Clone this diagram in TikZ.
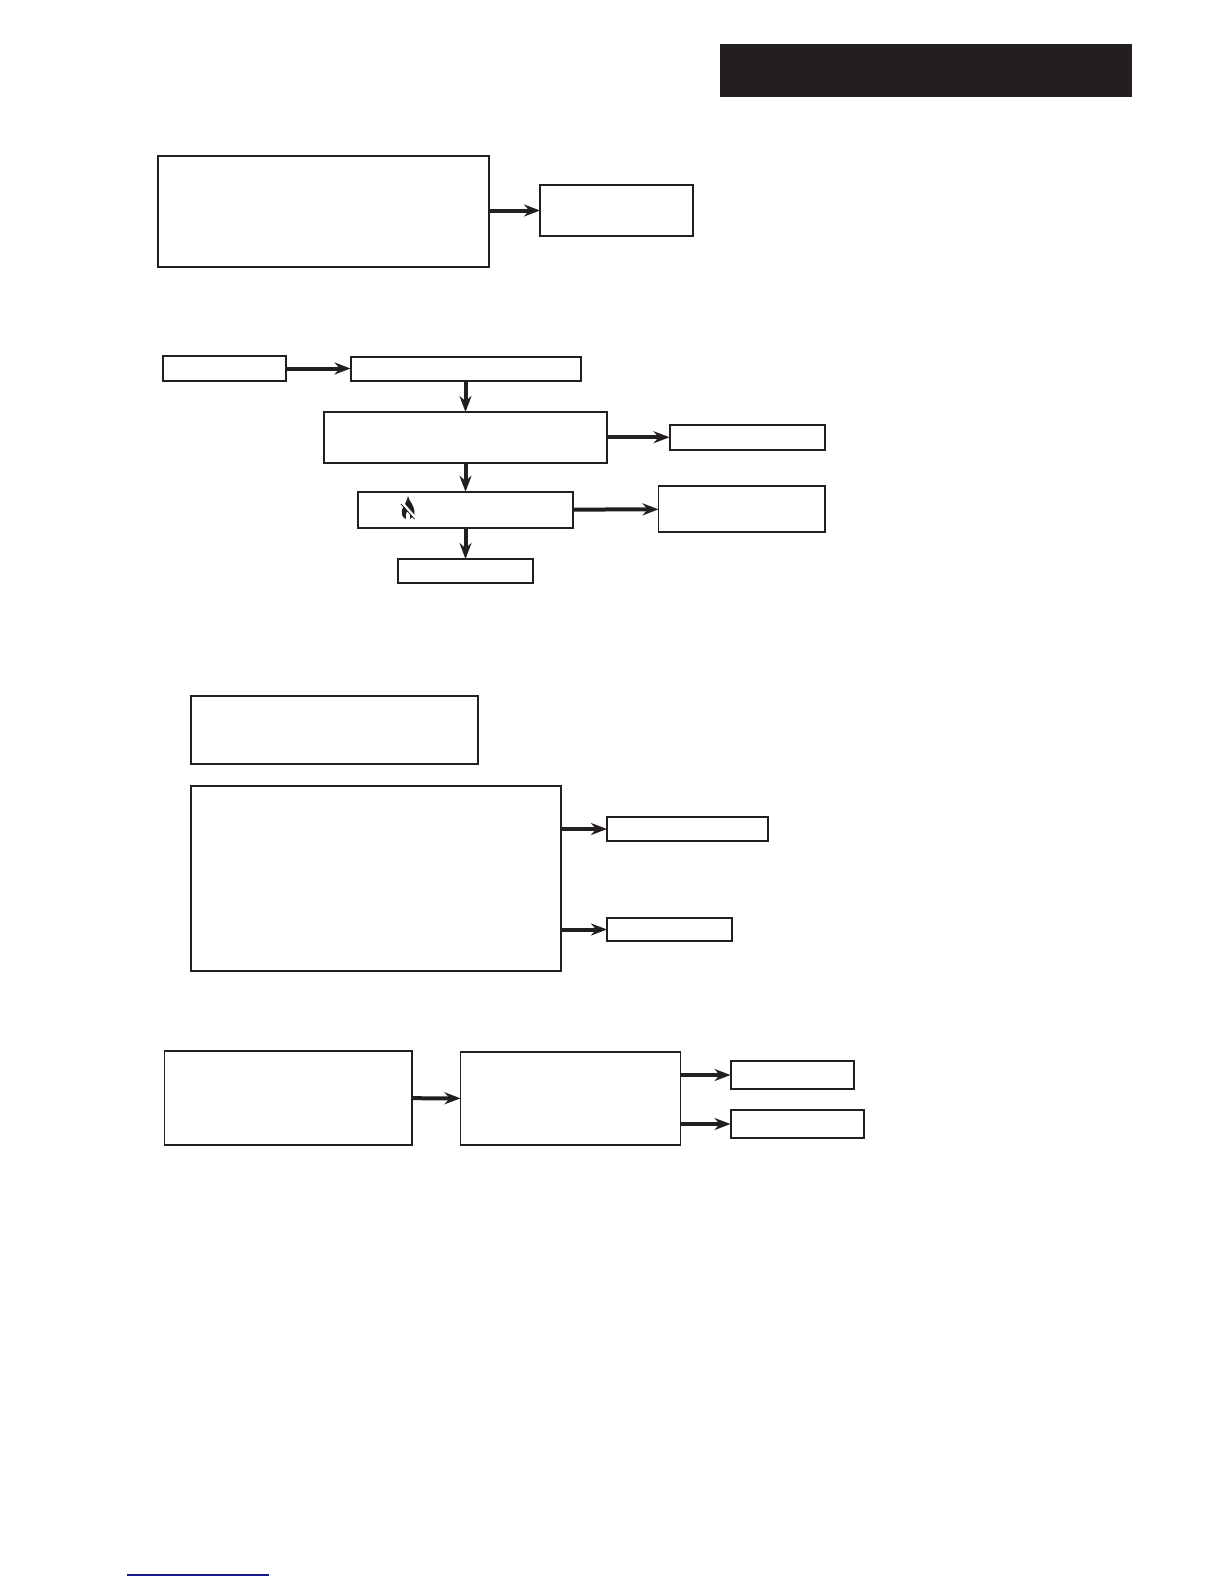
\documentclass[tikz,border=0pt]{standalone}
\usetikzlibrary{arrows.meta}
\definecolor{inkk}{HTML}{231F20}
\definecolor{linkblue}{HTML}{1A1A8C}
\tikzset{
	box/.style={draw=inkk,line width=1pt,inner sep=0pt,outer sep=0pt},
	arr/.style={draw=inkk,line width=2pt,-{Stealth[length=8pt,width=6pt]}},
}
\begin{document}
\begin{tikzpicture}[x=0.5pt,y=-0.5pt]
	\useasboundingbox (0,0) rectangle (1224,1584);
	\fill[inkk] (720,44) rectangle (1132,97);
	% first group
	\node[box,minimum width=165.75pt,minimum height=55.5pt] (heat) at (323.25,211) {};
	\node[box,line width=0.8pt,minimum width=76.5pt,minimum height=25.5pt] (heatout) at (616.5,210.5) {};
	\draw[arr] (heat.east |- heatout.west)--(heatout.west);
	% second group
	\node[box,minimum width=61.5pt,minimum height=12.5pt] (start) at (224.25,368.5) {};
	\node[box,minimum width=115pt,minimum height=12pt] (fan) at (465.5,368.5) {};
	\node[box,minimum width=141.5pt,minimum height=25.25pt] (ign) at (465.5,437.25) {};
	\node[box,minimum width=77.75pt,minimum height=12.25pt] (ignout) at (747.25,437.25) {};
	\node[box,minimum width=107.75pt,minimum height=18.25pt] (flame) at (465.5,510) {};
	\node[box,line width=0.8pt,minimum width=83.25pt,minimum height=23pt] (flameout) at (741.75,509) {};
	\node[box,minimum width=67.5pt,minimum height=12pt] (run) at (465.5,571) {};
	\draw[arr] (start)--(fan);
	\draw[arr] (fan)--(ign);
	\draw[arr] (ign)--(ignout);
	\draw[arr] (ign)--(flame);
	\draw[arr] (flame)--(flameout);
	\draw[arr] (flame)--(run);
	% flame symbol
	\fill[inkk] (408,496) .. controls (409,501) and (414,505) .. (414.5,511) .. controls (415,515) and (413,518) .. (410,519) .. controls (411,515) and (409,511) .. (408,509) .. controls (407,512) and (405,514) .. (406,519) .. controls (403,518) and (401,515) .. (402,510) .. controls (403,506) and (407,502) .. (408,496)--cycle;
	\draw[white,line width=1.2pt] (402,502.5)--(415,517.5);
	\draw[inkk,line width=0.4pt] (401,504)--(414.5,519);
	% third group
	\node[box,minimum width=143.5pt,minimum height=33.75pt] (hold) at (334.25,729.75) {};
	\node[box,minimum width=184.75pt,minimum height=92.5pt] (fault) at (375.75,878) {};
	\node[box,minimum width=80.25pt,minimum height=12pt] (faulta) at (687.25,829) {};
	\node[box,minimum width=62.5pt,minimum height=11.5pt] (faultb) at (669.5,929.5) {};
	\draw[arr] (fault.east |- faulta.west)--(faulta.west);
	\draw[arr] (fault.east |- faultb.west)--(faultb.west);
	% fourth group
	\node[box,line width=0.8pt,minimum width=123.75pt,minimum height=47pt] (cool) at (288.25,1098) {};
	\node[box,line width=0.8pt,minimum width=110pt,minimum height=46.5pt] (stopp) at (570.5,1098.5) {};
	\node[box,minimum width=61.75pt,minimum height=14pt] (stopa) at (792.25,1075) {};
	\node[box,minimum width=66.75pt,minimum height=14pt] (stopb) at (797.25,1124) {};
	\draw[arr] (cool)--(stopp);
	\draw[arr] (stopp.east |- stopa.west)--(stopa.west);
	\draw[arr] (stopp.east |- stopb.west)--(stopb.west);
	% footer rule
	\draw[linkblue,line width=0.7pt] (127,1575)--(269,1575);
\end{tikzpicture}
\end{document}
